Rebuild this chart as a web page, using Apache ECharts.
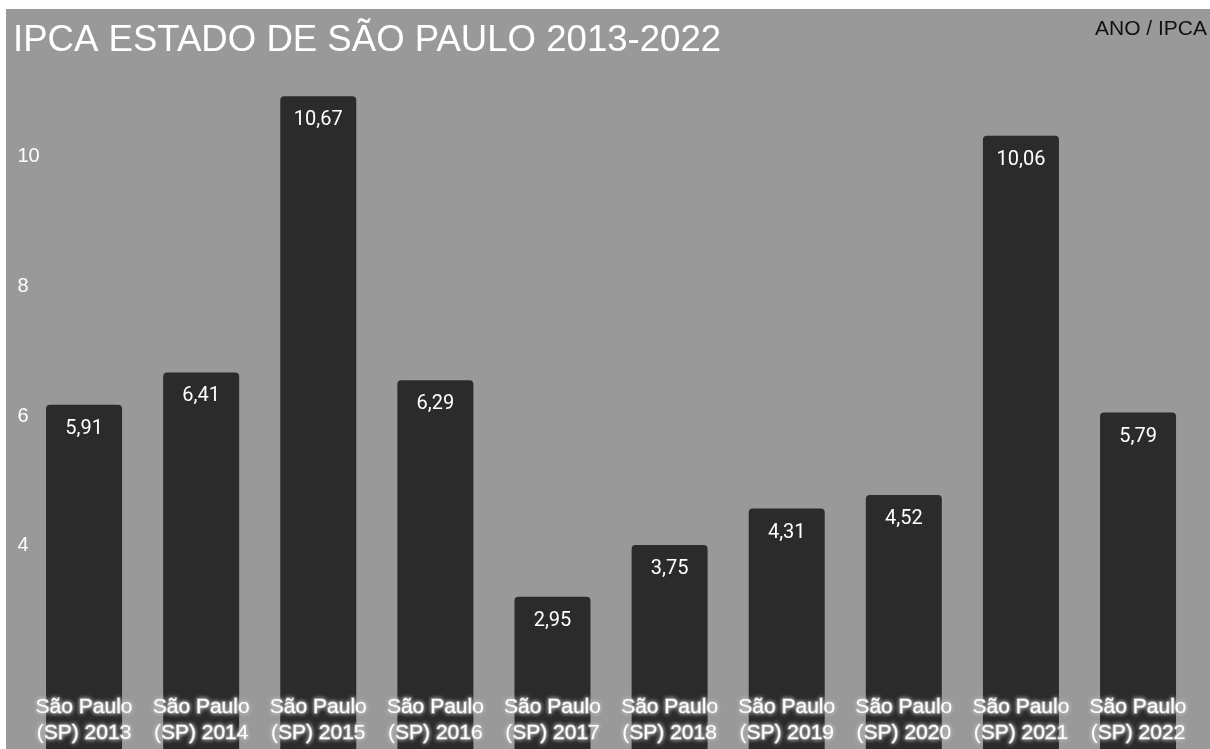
<!DOCTYPE html>
<html>
<head>
<meta charset="utf-8">
<script src="https://cdn.jsdelivr.net/npm/echarts@6/dist/echarts.min.js"></script>
<style>
  html, body { margin: 0; padding: 0; background: #ffffff; }
  #chart { position: absolute; left: 6px; top: 9px; width: 1204px; height: 740px; }
</style>
</head>
<body>
<div id="chart"></div>
<script>
// IPCA (%) by year, state of São Paulo
const categories = [
  'São Paulo\n(SP) 2013', 'São Paulo\n(SP) 2014', 'São Paulo\n(SP) 2015',
  'São Paulo\n(SP) 2016', 'São Paulo\n(SP) 2017', 'São Paulo\n(SP) 2018',
  'São Paulo\n(SP) 2019', 'São Paulo\n(SP) 2020', 'São Paulo\n(SP) 2021',
  'São Paulo\n(SP) 2022'
];
const ipcaValues = [5.91, 6.41, 10.67, 6.29, 2.95, 3.75, 4.31, 4.52, 10.06, 5.79];
const yTicksShown = [4, 6, 8, 10];

const chart = echarts.init(document.getElementById('chart'));

const fmtComma = v => v.toFixed(2).replace('.', ',');

chart.setOption({
  backgroundColor: '#999999',
  animation: false,
  title: [
    {
      text: 'IPCA ESTADO DE SÃO PAULO 2013-2022',
      left: 7, top: 13, padding: 0,
      textStyle: { color: '#ffffff', fontFamily: 'Liberation Sans, Arial, sans-serif', fontSize: 36.6, fontWeight: 'normal' }
    },
    {
      text: 'ANO / IPCA',
      right: 3, top: 10, padding: 0,
      textStyle: { color: '#111111', fontFamily: 'Liberation Sans, Arial, sans-serif', fontSize: 21, fontWeight: 'normal' }
    }
  ],
  grid: { left: 19.5, right: 13.4, top: 0.9, bottom: -39.1, outerBoundsMode: 'none' },
  xAxis: {
    type: 'category',
    data: categories,
    axisLine: { show: false },
    axisTick: { show: false },
    axisLabel: {
      inside: true,
      margin: 42,
      interval: 0,
      color: '#ffffff',
      fontFamily: 'Liberation Sans, Arial, sans-serif',
      fontSize: 21,
      lineHeight: 26,
      textBorderColor: 'rgba(175,175,175,0.9)',
      textBorderWidth: 1.5,
      textShadowColor: 'rgba(190,190,190,0.9)',
      textShadowBlur: 4
    },
    z: 10
  },
  yAxis: {
    type: 'value',
    min: 0, max: 12, interval: 2,
    splitLine: { show: false },
    axisLine: { show: false },
    axisTick: { show: false },
    axisLabel: {
      margin: 8,
      align: 'left',
      verticalAlign: 'top',
      padding: [7, 0, 0, 0],
      color: '#ffffff',
      fontFamily: 'Liberation Sans, Arial, sans-serif',
      fontSize: 20,
      formatter: v => (yTicksShown.indexOf(v) >= 0 ? String(v) : '')
    }
  },
  series: [{
    type: 'bar',
    data: ipcaValues,
    barWidth: 76,
    itemStyle: { color: '#2b2b2b', borderRadius: [4, 4, 0, 0] },
    label: {
      show: true,
      position: 'insideTop',
      distance: 14,
      color: '#ffffff',
      fontFamily: 'Roboto, sans-serif',
      fontSize: 20,
      formatter: p => fmtComma(p.value)
    }
  }]
});
</script>
</body>
</html>
